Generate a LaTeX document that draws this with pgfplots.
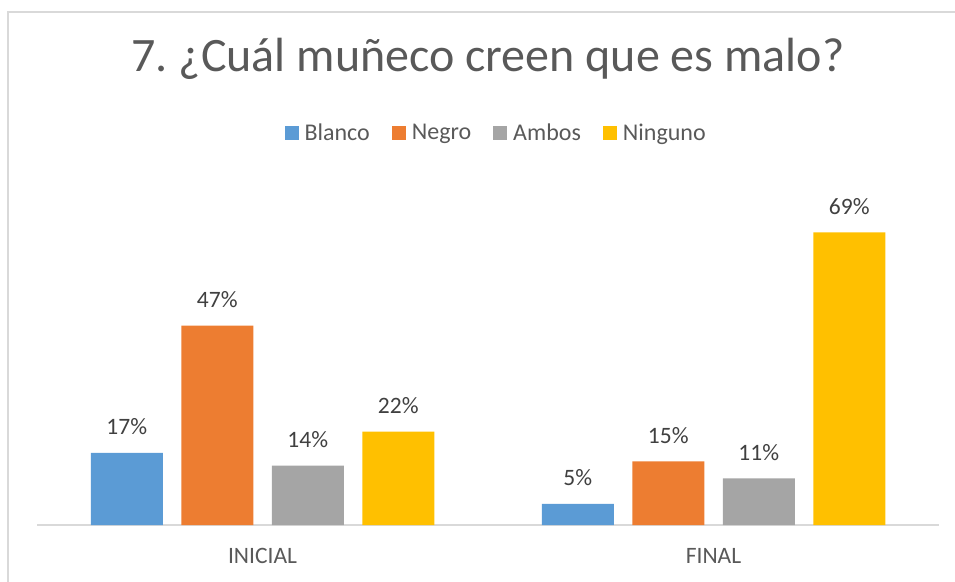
\documentclass[border=0pt]{standalone}
\usepackage{pgfplots}
\pgfplotsset{compat=1.18}
\usepackage{fontspec}
\setmainfont{Carlito}
\definecolor{Blanco}{HTML}{5B9BD5}
\definecolor{Negro}{HTML}{ED7D31}
\definecolor{Ambos}{HTML}{A5A5A5}
\definecolor{Ninguno}{HTML}{FFC000}
\definecolor{TextGray}{HTML}{595959}
\definecolor{LabelGray}{HTML}{404040}
\definecolor{LineGray}{HTML}{D9D9D9}
\newcommand{\chartfont}{\fontsize{23.5}{28}\selectfont}
\frenchspacing

\begin{document}
\begin{tikzpicture}
    \useasboundingbox (0,0) rectangle (955pt,581pt);
    % chart frame (only left and top edges are inside the crop)
    \draw[LineGray, line width=1.3pt] (8pt,-5pt) -- (8pt,569pt) -- (965pt,569pt);
    \begin{axis}[
        at={(37pt,56pt)},
        anchor=south west,
        scale only axis,
        width=902pt,
        height=339.2pt,
        xmin=-0.5, xmax=1.5,
        ymin=0, ymax=80,
        ybar=18.5pt,
        bar width=72pt,
        axis x line*=bottom,
        axis y line=none,
        x axis line style={LineGray, line width=1.5pt},
        xtick={0,1},
        xticklabels={INICIAL, FINAL},
        major tick length=0pt,
        xticklabel style={font=\chartfont, text=TextGray, anchor=base, yshift=-38pt},
        /pgf/number format/assume math mode=true,
        nodes near coords={\pgfmathprintnumber{\pgfplotspointmeta}\%},
        every node near coord/.append style={font=\chartfont, text=LabelGray, anchor=base, yshift=18pt},
        title={7.\ ¿Cuál muñeco creen que es malo?},
        title style={at={(axis description cs:0.5,1.318)}, anchor=base, font=\fontsize{48}{56}\selectfont, text=TextGray},
        legend columns=4,
        legend style={
            at={(axis description cs:0.509,1.157)},
            anchor=center,
            draw=none, fill=none,
            font=\fontsize{24}{28}\selectfont, text=TextGray,
            /tikz/every odd column/.append style={column sep=4pt},
            /tikz/every even column/.append style={column sep=20pt},
        },
        legend image code/.code={\fill[#1] (0pt,-7pt) rectangle (14pt,7pt);},
    ]
        \addplot[fill=Blanco, draw=none] coordinates {(0,17) (1,5)};
        \addlegendentry{Blanco}
        \addplot[fill=Negro, draw=none] coordinates {(0,47) (1,15)};
        \addlegendentry{Negro}
        \addplot[fill=Ambos, draw=none] coordinates {(0,14) (1,11)};
        \addlegendentry{Ambos}
        \addplot[fill=Ninguno, draw=none] coordinates {(0,22) (1,69)};
        \addlegendentry{Ninguno}
    \end{axis}
\end{tikzpicture}
\end{document}
